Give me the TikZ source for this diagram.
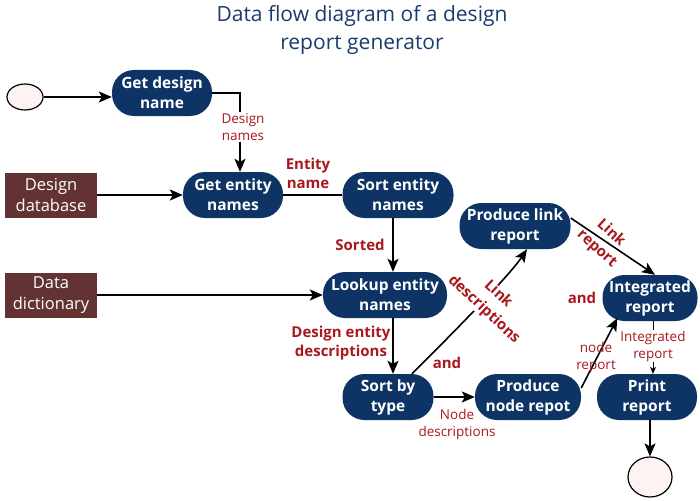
\documentclass[tikz,border=0pt]{standalone}
\usepackage{fontspec}
\setmainfont{Open Sans}
\usetikzlibrary{arrows.meta,shapes.geometric}
\definecolor{procblue}{HTML}{0E3466}
\definecolor{storebrown}{HTML}{633333}
\definecolor{labred}{HTML}{A8181E}
\definecolor{titleblue}{HTML}{1B3A6E}
\definecolor{termfill}{HTML}{FDF3F3}
\begin{document}
\begin{tikzpicture}[x=1pt,y=-1pt,
  proc/.style={fill=procblue, text=white, font=\fontsize{15.5}{20}\selectfont\bfseries,
    rounded corners=22pt, align=center, inner sep=0pt, minimum height=46pt},
  store/.style={fill=storebrown, text=white, font=\fontsize{16.5}{21}\selectfont,
    align=center, inner sep=0pt, minimum width=92pt, minimum height=45pt},
  term/.style={ellipse, draw, line width=1.2pt, fill=termfill, inner sep=0pt},
  flow/.style={line width=1.6pt, -{Stealth[length=13pt,width=11pt,inset=3pt]}},
  thinflow/.style={line width=1pt, -{Stealth[length=7pt,width=6pt,inset=2pt]}},
  lab/.style={text=labred, font=\fontsize{15}{19}\selectfont\bfseries, align=center, inner sep=1pt},
  rlab/.style={lab, font=\fontsize{15}{21}\selectfont\bfseries},
  slab/.style={text=labred, font=\fontsize{13.5}{17}\selectfont, align=center, inner sep=1pt}]
  \useasboundingbox (0,0) rectangle (700,500);

  % title
  \node[text=titleblue, font=\fontsize{21}{28}\selectfont, align=center] (title) at (362,30)
    {Data flow diagram of a design\\report generator};

  % terminals and stores
  \node[term, minimum width=36pt, minimum height=26pt] (start) at (25,97) {};
  \node[term, minimum width=44pt, minimum height=40pt] (endc) at (650,477) {};
  \node[store] (ddb) at (51,195) {Design\\database};
  \node[store] (ddc) at (51,295) {Data\\dictionary};

  % processes
  \node[proc, minimum width=100pt] (gdn) at (162,93) {Get design\\name};
  \node[proc, minimum width=100pt] (gen) at (233,195) {Get entity\\names};
  \node[proc, minimum width=111pt] (sen) at (398,195) {Sort entity\\names};
  \node[proc, minimum width=111pt] (plr) at (515,226) {Produce link\\report};
  \node[proc, minimum width=124pt] (lkp) at (385,295) {Lookup entity\\names};
  \node[proc, minimum width=95pt] (ir) at (650,298) {Integrated\\report};
  \node[proc, minimum width=91pt] (sbt) at (388,397) {Sort by\\type};
  \node[proc, minimum width=106pt] (pnr) at (528,397) {Produce\\node repot};
  \node[proc, minimum width=100pt] (prt) at (647,397) {Print\\report};

  % flows
  \draw[flow] (start) -- (start -| gdn.west);
  \draw[flow] (gdn.east) -| ([xshift=7pt]gen.north);
  \draw[flow] (ddb) -- (gen);
  \draw[line width=1.6pt] (gen) -- (sen);
  \draw[flow] ([xshift=-5pt]sen.south) -- ([xshift=-5pt]sen.south |- lkp.north);
  \draw[flow] (ddc) -- (lkp);
  \draw[flow] ([xshift=8pt]lkp.south) -- ([xshift=8pt]lkp.south |- sbt.north);
  \draw[flow] ([xshift=24pt]sbt.north) .. controls +(20,-20) and +(-20,30) .. ([xshift=12pt]plr.south);
  \draw[flow] (sbt) -- (pnr);
  \draw[flow] ([yshift=8pt]plr.east) -- ([xshift=5pt]ir.north);
  \draw[flow] ([yshift=9pt]pnr.east) -- ([xshift=15pt,yshift=3pt]ir.south west);
  \draw[thinflow] ([xshift=3pt]ir.south) -- ([xshift=3pt]ir.south |- prt.north);
  \draw[flow] ([xshift=3pt]prt.south) -- (endc.north);

  % labels
  \node[slab, fill=white] (ldn) at (243,127) {Design\\names};
  \node[lab] (len) at (308,173) {Entity\\name};
  \node[lab] (lsrt) at (360,245) {Sorted};
  \node[lab] (lded) at (341,343) {Design entity\\descriptions};
  \node[rlab, rotate=-43, fill=white, inner sep=0pt] (lld) at (491,302) {Link\\descriptions};
  \node[rlab, rotate=-42] (llr) at (604,241) {Link\\report};
  \node[lab] (land) at (447,363) {and};
  \node[lab] (land2) at (582,298) {and};
  \node[slab] (lnd) at (457,424) {Node\\descriptions};
  \node[slab] (lnr) at (596,357) {node\\report};
  \node[slab, fill=white] (lir) at (653,346) {Integrated\\report};
\end{tikzpicture}
\end{document}
